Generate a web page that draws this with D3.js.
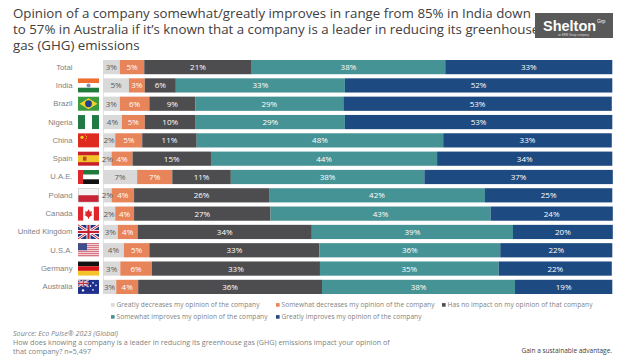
<!DOCTYPE html>
<html><head><meta charset="utf-8">
<script src="https://cdnjs.cloudflare.com/ajax/libs/d3/7.8.5/d3.min.js"></script>
<style>html,body{margin:0;padding:0;background:#fff}svg{display:block;font-family:"Open Sans","Noto Sans",sans-serif}</style>
</head><body><svg id="c" width="626" height="364"></svg>
<script>
const categories=["Total","India","Brazil","Nigeria","China","Spain","U.A.E.","Poland","Canada","United Kingdom","U.S.A.","Germany","Australia"];
const seriesNames=["Greatly decreases my opinion of the company","Somewhat decreases my opinion of the company","Has no impact on my opinion of that company","Somewhat improves my opinion of the company","Greatly improves my opinion of the company"];
const seriesColors=["#d9d9d9","#e8845a","#4d4d4f","#459395","#1d4a80"];
const labelColors=["#595959","#fff","#fff","#fff","#fff"];
const greatlyDecreases=[3.3,5.1,3.3,3.7,2.4,1.7,6.7,1.7,2.4,2.9,4.1,3.4,2.6];
const somewhatDecreases=[4.8,3.1,5.8,4.5,5.3,4.1,6.9,4.4,3.7,3.9,5.0,6.2,4.3];
const noImpact=[21.1,6.1,9.0,10.0,10.7,15.4,11.5,26.5,26.8,34.2,33.4,33.0,36.1];
const somewhatImproves=[38.0,33.2,29.1,29.3,48.4,44.4,38.0,42.4,43.2,39.5,35.5,35.1,37.9];
const greatlyImproves=[32.8,52.5,52.7,52.5,33.1,34.4,37.0,25.0,24.0,19.6,22.0,22.2,19.1];
const labelsGD=[3,5,3,4,2,2,7,2,2,3,4,3,3];
const labelsSD=[5,3,6,5,5,4,7,4,4,4,5,6,4];
const labelsNI=[21,6,9,10,11,15,11,26,27,34,33,33,36];
const labelsSI=[38,33,29,29,48,44,38,42,43,39,36,35,38];
const labelsGI=[33,52,53,53,33,34,37,25,24,20,22,22,19];
const titleLines=["Opinion of a company somewhat/greatly improves in range from 85% in India down","to 57% in Australia if it\u2019s known that a company is a leader in reducing its greenhouse","gas (GHG) emissions"];
const footLines=["How does knowing a company is a leader in reducing its greenhouse gas (GHG) emissions impact your opinion of","that company? n=5,497"];

const values=[greatlyDecreases,somewhatDecreases,noImpact,somewhatImproves,greatlyImproves];
const labels=[labelsGD,labelsSD,labelsNI,labelsSI,labelsGI];
const table=categories.map((c,i)=>{const o={category:c};values.forEach((v,k)=>o[k]=v[i]);return o;});
const stacked=d3.stack().keys(d3.range(5))(table);
const svg=d3.select("#c");
const x=d3.scaleLinear().domain([0,100]).range([103,612.3]);
const y=d3.scaleBand().domain(categories).range([60,294]).paddingInner(0.224);

// title
svg.append("g").selectAll("text").data(titleLines).join("text")
 .attr("x",13).attr("y",(d,i)=>18+i*16).attr("font-size",13.3).attr("fill","#404040").text(d=>d);

// logo
const logo=svg.append("g").style("font-family","'Liberation Sans'");
logo.append("rect").attr("x",535).attr("y",13).attr("width",78).attr("height",25).attr("fill","#595959");
logo.append("text").attr("x",543).attr("y",31).attr("font-size",14.5).attr("font-weight",700).attr("fill","#fff").text("Shelton");
logo.append("text").attr("x",597).attr("y",23).attr("font-size",5).attr("fill","#fff").text("Grp");
logo.append("text").attr("x",558).attr("y",36).attr("font-size",2.8).attr("fill","#ddd").text("an ERM Group company");

// axis
svg.append("g").attr("transform","translate(103,0)")
 .call(d3.axisLeft(y).tickSize(0).tickPadding(30.5))
 .call(g=>g.select(".domain").attr("stroke","#e4e4e4").attr("stroke-width",1))
 .call(g=>g.selectAll("text").attr("font-size",7.7).attr("fill","#7f7f7f"));
svg.selectAll(".tick text").style("font-family","inherit");

// bars
const layers=svg.append("g").selectAll("g").data(stacked).join("g").attr("fill",(d,i)=>seriesColors[i]);
layers.selectAll("rect").data(d=>d.map((p,i)=>({p,i}))).join("rect")
 .attr("x",d=>x(d.p[0])).attr("y",d=>y(categories[d.i]))
 .attr("width",d=>x(d.p[1])-x(d.p[0])).attr("height",y.bandwidth());
const lab=svg.append("g").attr("text-anchor","middle").attr("font-size",8);
stacked.forEach((s,k)=>{
 lab.append("g").attr("fill",labelColors[k]).selectAll("text").data(s.map((p,i)=>({p,i}))).join("text")
  .attr("x",d=>(x(d.p[0])+x(d.p[1]))/2).attr("y",d=>y(categories[d.i])+y.bandwidth()/2+3)
  .text(d=>labels[k][d.i]+"%");
});

// flags: drawn in a 21 x 14 box, placed from the category scale
function r(g,a,b,w,h,f){g.append("rect").attr("x",a).attr("y",b).attr("width",w).attr("height",h).attr("fill",f);}
function union(g){
 r(g,0,0,21,14,"#26357a");
 g.append("path").attr("d","M0 0L21 14M21 0L0 14").attr("stroke","#fff").attr("stroke-width",2.6);
 g.append("path").attr("d","M0 0L21 14M21 0L0 14").attr("stroke","#c8202f").attr("stroke-width",1);
 r(g,8.5,0,4,14,"#fff");r(g,0,5,21,4,"#fff");r(g,9.4,0,2.2,14,"#c8202f");r(g,0,5.9,21,2.2,"#c8202f");
}
const flags={
 India(g){r(g,0,0,21,4.7,"#ee6d2f");r(g,0,4.7,21,4.6,"#fff");r(g,0,9.3,21,4.7,"#1f7a3c");g.append("circle").attr("cx",10.5).attr("cy",7).attr("r",2).attr("fill","#7f8fc0");},
 Brazil(g){r(g,0,0,21,14,"#3a9a3f");g.append("path").attr("d","M10.5 1.5L19.5 7L10.5 12.5L1.5 7Z").attr("fill","#f1d22b");g.append("circle").attr("cx",10.5).attr("cy",7).attr("r",3.4).attr("fill","#243f8e");},
 Nigeria(g){r(g,0,0,7,14,"#217a43");r(g,7,0,7,14,"#fff");r(g,14,0,7,14,"#217a43");},
 China(g){r(g,0,0,21,14,"#de2a1f");g.append("circle").attr("cx",4).attr("cy",4).attr("r",1.6).attr("fill","#f5d22a");[[7.3,1.7],[8.5,3.2],[8.5,5],[7.3,6.6]].forEach(c=>g.append("circle").attr("cx",c[0]).attr("cy",c[1]).attr("r",.5).attr("fill","#f5d22a"));},
 Spain(g){r(g,0,0,21,14,"#c8202a");r(g,0,3.5,21,7,"#f3c32c");r(g,5,5,3.5,4,"#b5482a");},
 "U.A.E."(g){r(g,0,0,21,4.7,"#1f7a3c");r(g,0,4.7,21,4.6,"#fff");r(g,0,9.3,21,4.7,"#111");r(g,0,0,5,14,"#e0272c");},
 Poland(g){r(g,0,0,21,14,"#bbb");r(g,.5,.5,20,6.5,"#f4f2f2");r(g,.5,7,20,6.5,"#c92337");},
 Canada(g){r(g,0,0,21,14,"#fff");r(g,0,0,5.2,14,"#e0262d");r(g,15.8,0,5.2,14,"#e0262d");g.append("path").attr("d","M10.5 2.5L12 5L14 4.5L13.3 7.5L14.5 8.3L11 10.5V12H10V10.5L6.5 8.3L7.7 7.5L7 4.5L9 5Z").attr("fill","#e0262d");},
 "United Kingdom"(g){union(g);},
 "U.S.A."(g){r(g,0,0,21,14,"#fff");d3.range(7).forEach(i=>r(g,0,i*2,21,1,"#c9485a"));r(g,0,0,9,7,"#3f4d8c");},
 Germany(g){r(g,0,0,21,4.7,"#111");r(g,0,4.7,21,4.6,"#d5141c");r(g,0,9.3,21,4.7,"#f4c32a");},
 Australia(g){r(g,0,0,21,14,"#1f2f8c");const u=g.append("g").attr("transform","scale(.5)");union(u);[[15,3],[18,5.5],[15,10],[12.5,6]].forEach(c=>g.append("circle").attr("cx",c[0]).attr("cy",c[1]).attr("r",.8).attr("fill","#fff"));g.append("circle").attr("cx",5).attr("cy",10.5).attr("r",1.2).attr("fill","#fff");}
};
const flagG=svg.append("g");
categories.filter(c=>flags[c]).forEach(c=>{
 const g=flagG.append("g").attr("transform",`translate(78,${y(c)+y.bandwidth()/2-7})`);
 flags[c](g);
});

// legend
const legendPos=[[111,307.3],[276,307.3],[442,307.3],[111,319.3],[276,319.3]];
const legendWidths=[143,153,145,151,140];
const leg=svg.append("g").selectAll("g").data(seriesNames).join("g").attr("transform",(d,i)=>`translate(${legendPos[i][0]},${legendPos[i][1]})`);
leg.append("rect").attr("y",-4.2).attr("width",3.6).attr("height",3.6).attr("fill",(d,i)=>seriesColors[i]);
leg.append("text").attr("x",5.5).attr("font-size",6.6).attr("fill","#7f7f7f").attr("textLength",(d,i)=>legendWidths[i]).text(d=>d);

// footer
svg.append("text").attr("x",13).attr("y",336).attr("font-size",7.2).attr("font-style","italic").attr("fill","#7f7f7f").text("Source: Eco Pulse\u00ae 2023 (Global)");
svg.append("g").selectAll("text").data(footLines).join("text").attr("x",13).attr("y",(d,i)=>345+i*9.3).attr("font-size",7.2).attr("fill","#7f7f7f").text(d=>d);
svg.append("text").attr("x",612).attr("y",353).attr("text-anchor","end").attr("font-size",6.5).attr("fill","#404040").text("Gain a sustainable advantage.");
</script></body></html>
